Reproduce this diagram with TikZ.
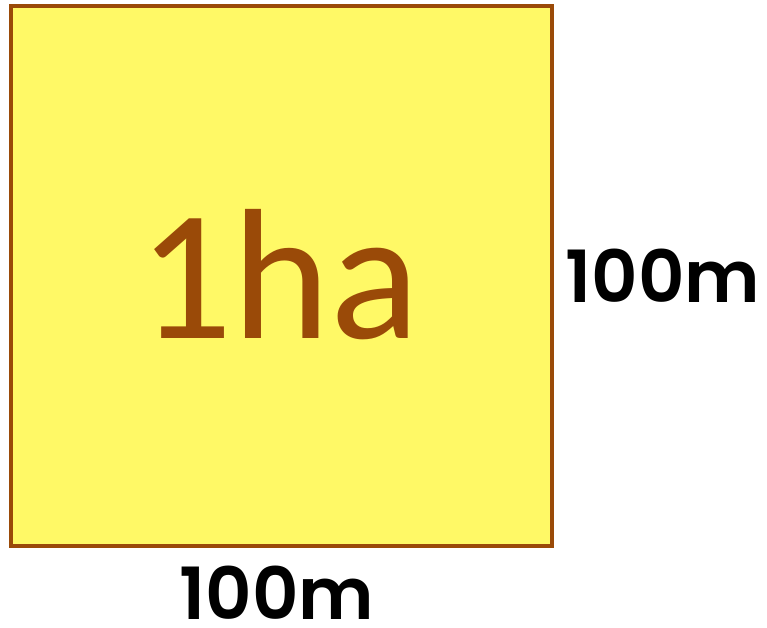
\documentclass[tikz,border=0pt]{standalone}
\usepackage{fontspec}
\newfontfamily\labfont{Poppins}[UprightFont={* SemiBold}]
\newfontfamily\hafont{Carlito}
\definecolor{sqfill}{HTML}{FFF966}
\definecolor{sqbrown}{HTML}{9A4A08}
\begin{document}
\begin{tikzpicture}[x=1pt,y=-1pt,
  sqbox/.style={draw=sqbrown,fill=sqfill,line width=4pt},
  dimlabel/.style={font=\labfont\fontsize{72}{76}\selectfont,text=black,inner sep=0pt,anchor=base},
  arealabel/.style={font=\hafont\fontsize{186}{190}\selectfont,text=sqbrown,inner sep=0pt,anchor=base}]
\useasboundingbox (0,0) rectangle (767,627);
\draw[sqbox] (11,6) rectangle (552,546);
\node[arealabel] (area) at (279,338) {1ha};
\node[dimlabel] (right) at (663,302) {100m};
\node[dimlabel] (bottom) at (277,619) {100m};
\end{tikzpicture}
\end{document}
